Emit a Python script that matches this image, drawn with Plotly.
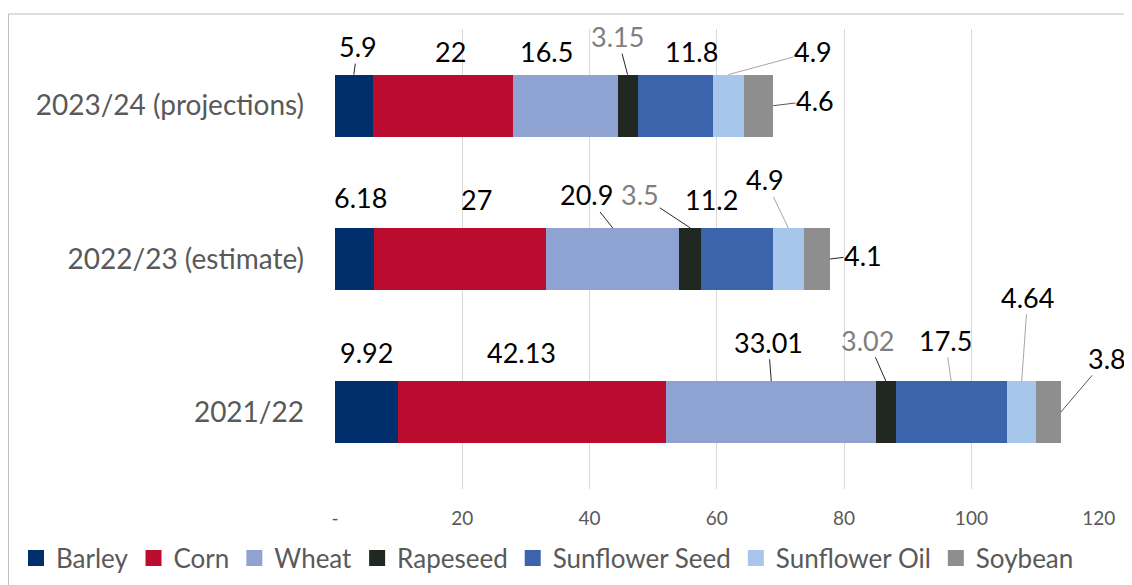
import plotly.graph_objects as go

# ---------------- data ----------------
categories = ["2021/22", "2022/23 (estimate)", "2023/24 (projections)"]
crops = ["Barley", "Corn", "Wheat", "Rapeseed", "Sunflower Seed", "Sunflower Oil", "Soybean"]
barley = [9.92, 6.18, 5.9]
corn = [42.13, 27, 22]
wheat = [33.01, 20.9, 16.5]
rapeseed = [3.02, 3.5, 3.15]
sunflower_seed = [17.5, 11.2, 11.8]
sunflower_oil = [4.64, 4.9, 4.9]
soybean = [3.8, 4.1, 4.6]
series = [barley, corn, wheat, rapeseed, sunflower_seed, sunflower_oil, soybean]

x_tick_vals = [0, 20, 40, 60, 80, 100, 120]
x_tick_text = ["-", "20", "40", "60", "80", "100", "120"]

# ---------------- styles ----------------
colors = ["#002F6C", "#BA0C2F", "#8FA3D3", "#212721", "#3B64AD", "#A6C6EC", "#8E8E8E"]
FONT = "Lato, 'Open Sans', sans-serif"
TEXT_GREY = "#595959"

# page body has an 8px margin, so the figure is drawn 8px in from the window
W, H = 1124, 577
ML, MT = 327, 21
PW, PH = 764, 460
MR = W - ML - PW
MB = H - MT - PH
BAR_W = 0.405

# label offsets (pixels) from anchor, per crop, per category row; leader style
# anchor: segment middle on bar top for all but Soybean (bar end, bar middle)
label_offsets = {
    # crop: [row0 (2021/22), row1 (2022/23), row2 (2023/24)]
    0: [(0, -29, None), (6, -30, None), (4, -28, "dark")],
    1: [(-11, -29, None), (16, -28, None), (8, -23, None)],
    2: [(-3, -39, "dark"), (-26, -33, "dark"), (-19, -23, None)],
    3: [(-18, -41, "dark"), (-50, -33, "dark"), (-10, -38, "dark")],
    4: [(-6, -41, "light"), (-26, -28, None), (16, -23, None)],
    5: [(6, -84, "light"), (-23, -48, "light"), (85, -23, "light")],
    6: [(46, -54, "mid"), (33, -4, "dark"), (42, -5, "mid")],
}
leader_colors = {None: "rgba(0,0,0,0)", "dark": "#262626", "mid": "#595959", "light": "#A6A6A6"}
label_font_colors = {3: "#7F7F7F"}

fig = go.Figure()

for i, (name, vals) in enumerate(zip(crops, series)):
    fig.add_trace(go.Bar(
        y=categories, x=vals, name=name, orientation="h",
        marker=dict(color=colors[i], line=dict(width=0)),
        width=BAR_W, showlegend=False, hoverinfo="skip",
    ))
    # legend-only entry with a larger square symbol
    fig.add_trace(go.Scatter(
        x=[None], y=[None], mode="markers", name=name,
        marker=dict(symbol="square", size=16, color=colors[i]),
        showlegend=True, hoverinfo="skip",
    ))

annotations = []
for r in range(len(categories)):
    cum = 0.0
    for i, vals in enumerate(series):
        v = vals[r]
        start = cum
        cum += v
        ax, ay, leader = label_offsets[i][r]
        if i == len(series) - 1:
            xa, ya = cum, r
        else:
            xa, ya = start + v / 2, r + BAR_W / 2
        annotations.append(dict(
            x=xa, y=ya, xref="x", yref="y",
            text=f"{v:g}", showarrow=True, arrowhead=0, arrowwidth=1,
            arrowcolor=leader_colors[leader], ax=ax, ay=ay,
            font=dict(family=FONT, size=27, color=label_font_colors.get(i, "#000000")),
            borderpad=0,
        ))


def px_x(p):
    return (p - ML) / PW


def px_y(p):
    return (MT + PH - p) / PH


shapes = [dict(type="rect", xref="paper", yref="paper",
               x0=px_x(0.5), x1=px_x(W + 20), y0=px_y(H + 20), y1=px_y(6),
               line=dict(color="#BFBFBF", width=1), fillcolor="rgba(0,0,0,0)", layer="below")]

fig.update_layout(
    barmode="stack",
    width=W, height=H,
    margin=dict(l=ML, r=MR, t=MT, b=MB, autoexpand=False),
    paper_bgcolor="white", plot_bgcolor="white",
    font=dict(family=FONT, color=TEXT_GREY),
    annotations=annotations,
    shapes=shapes,
    xaxis=dict(range=[0, 120.05], tickvals=x_tick_vals, ticktext=x_tick_text,
               showgrid=True, gridcolor="#D9D9D9", gridwidth=1, zeroline=False,
               showline=False, ticks="", ticklabelstandoff=16,
               tickfont=dict(family=FONT, size=19, color=TEXT_GREY)),
    yaxis=dict(categoryorder="array", categoryarray=categories,
               range=[-0.5, 2.5], showgrid=False, zeroline=False, showline=False,
               ticks="", ticklabelstandoff=30,
               tickfont=dict(family=FONT, size=28, color=TEXT_GREY)),
    legend=dict(orientation="h", xref="paper", yref="paper",
                x=px_x(8), y=px_y(550), xanchor="left", yanchor="middle",
                traceorder="normal",
                font=dict(family=FONT, size=26, color=TEXT_GREY),
                itemsizing="trace", tracegroupgap=0, bgcolor="rgba(0,0,0,0)"),
    hovermode=False,
)

fig.write_html("out.html")
